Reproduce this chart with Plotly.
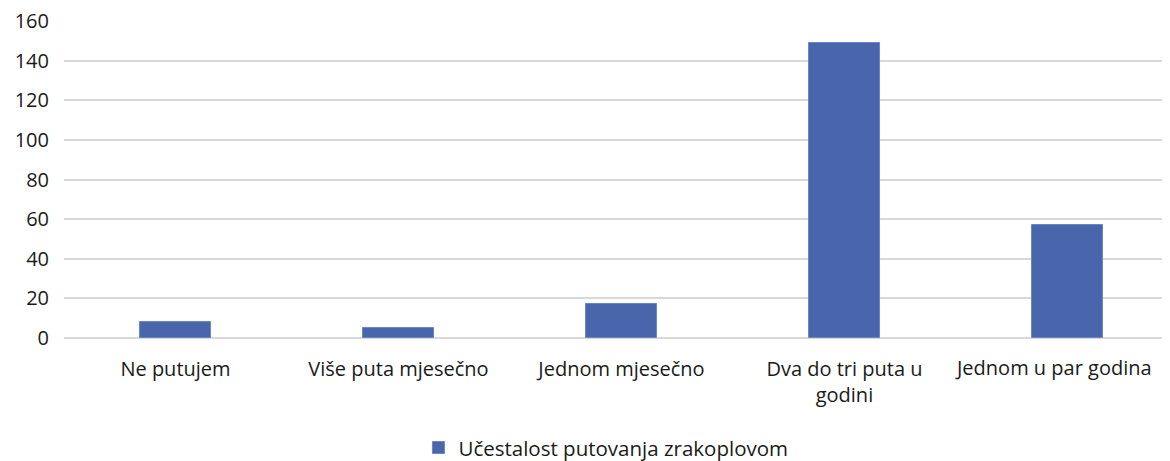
import plotly.graph_objects as go

categories = ["Ne putujem", "Više puta mjesečno", "Jednom mjesečno",
              "Dva do tri puta u<br>godini", "Jednom u par godina"]
values = [8, 5, 17, 149, 57]
series_name = "Učestalost putovanja zrakoplovom"
y_ticks = [0, 20, 40, 60, 80, 100, 120, 140, 160]

idx = list(range(len(categories)))
# last label is drawn as an annotation nudged left (as the original does) so it fits
tick_text = categories[:-1] + [""]

fig = go.Figure()
fig.add_trace(go.Bar(
    x=idx, y=values, name=series_name,
    marker=dict(color="#4966AD", line=dict(color="#6a86c4", width=1)),
    width=0.315,
))

fig.add_annotation(
    x=idx[-1], y=0, xref="x", yref="y", text=categories[-1],
    showarrow=False, xanchor="center", yanchor="top", xshift=-14, yshift=-14,
    font=dict(family="Open Sans, sans-serif", size=20, color="#1a1a1a"),
)

fig.update_layout(
    width=1162, height=453,
    margin=dict(l=56, r=0, t=13, b=123, autoexpand=False),
    plot_bgcolor="white", paper_bgcolor="white",
    font=dict(family="Open Sans, sans-serif", size=20, color="#1a1a1a"),
    bargap=0,
    showlegend=True,
    legend=dict(orientation="h", x=0.49, xanchor="center", y=-0.283, yanchor="top",
                font=dict(size=20.5), itemwidth=30),
    xaxis=dict(
        tickmode="array", tickvals=idx, ticktext=tick_text,
        range=[-0.5, 4.46], showgrid=False, zeroline=False, showline=False,
        ticks="", ticklabelstandoff=17, ticklabeloverflow="allow", automargin=False,
    ),
    yaxis=dict(
        range=[0, 160], tickvals=y_ticks, showgrid=True, gridcolor="#d9d9d9",
        gridwidth=1.5, zeroline=True, zerolinecolor="#d9d9d9", zerolinewidth=1.5,
        showline=False, ticks="", ticklabelstandoff=14, ticklabeloverflow="allow",
        automargin=False,
    ),
)

fig.write_html("out.html")
